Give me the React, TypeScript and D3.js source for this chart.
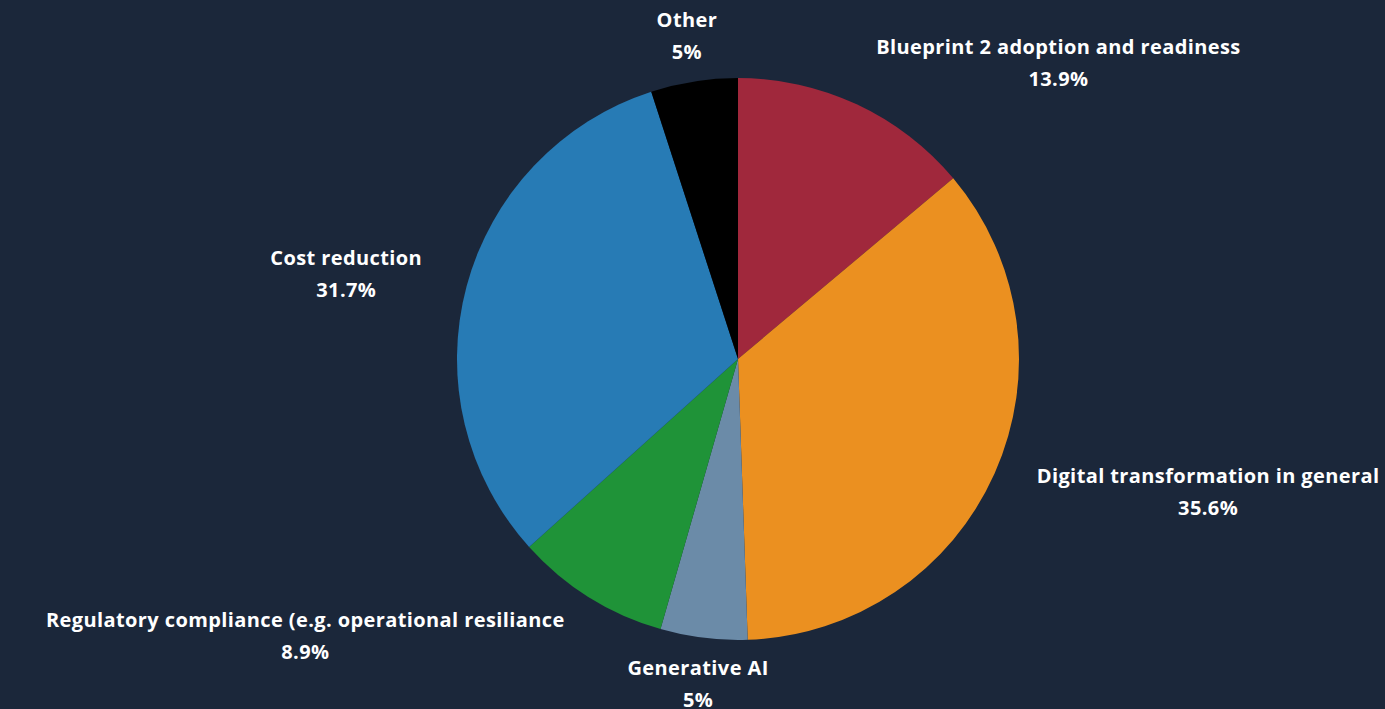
import React, { useEffect, useRef } from "react";
import * as d3 from "d3";

const categories = [
  "Blueprint 2 adoption and readiness",
  "Digital transformation in general",
  "Generative AI",
  "Regulatory compliance (e.g. operational resiliance",
  "Cost reduction",
  "Other",
];
const values = [13.9, 35.6, 5, 8.9, 31.7, 5];
const valueLabels = ["13.9%", "35.6%", "5%", "8.9%", "31.7%", "5%"];
const colors = ["#a0283c", "#eb9020", "#6b8ba8", "#1f9338", "#277bb5", "#000000"];

const W = 1385;
const H = 709;

export default function App() {
  const ref = useRef<SVGSVGElement>(null);
  useEffect(() => {
    document.body.style.margin = "0";
    const svg = d3.select(ref.current);
    svg.selectAll("*").remove();
    svg.append("rect").attr("width", W).attr("height", H).attr("fill", "#1b273a");
    const cx = 738, cy = 359, r = 281, lr = 327;
    const g = svg.append("g").attr("transform", `translate(${cx},${cy})`);
    const data = categories.map((c, i) => ({ c, v: values[i], l: valueLabels[i], col: colors[i] }));
    const pie = d3.pie<any>().value((d) => d.v).sort(null);
    const arcs = pie(data);
    const arc = d3.arc<any>().innerRadius(0).outerRadius(r);
    g.selectAll("path").data(arcs).enter().append("path")
      .attr("d", arc as any).attr("fill", (d: any) => d.data.col);
    const font = "'Century Gothic', 'Open Sans', sans-serif";
    arcs.forEach((a: any) => {
      const mid = (a.startAngle + a.endAngle) / 2;
      const x = lr * Math.sin(mid);
      const y = -lr * Math.cos(mid);
      const s = Math.sin(mid);
      const lg = g.append("g").attr("transform", `translate(${x},${y})`);
      const mk = (txt: string, yy: number) =>
        lg.append("text").text(txt)
          .attr("font-family", font).attr("font-weight", 700).attr("font-size", 20)
          .attr("letter-spacing", 0.4)
          .attr("fill", "#ffffff").attr("text-anchor", "middle").attr("y", yy).attr("dy", "0.35em");
      const t1 = mk(a.data.c, -16);
      const t2 = mk(a.data.l, 16);
      const w = Math.max((t1.node() as any).getComputedTextLength(), (t2.node() as any).getComputedTextLength());
      let shift = 0;
      if (s > 0.3) shift = w / 2;
      else if (s < -0.3) shift = -w / 2;
      t1.attr("x", shift);
      t2.attr("x", shift);
    });
  }, []);
  return (
    <div style={{ position: "absolute", left: 0, top: 0 }}>
      <svg ref={ref} width={W} height={H} style={{ display: "block" }} />
    </div>
  );
}
